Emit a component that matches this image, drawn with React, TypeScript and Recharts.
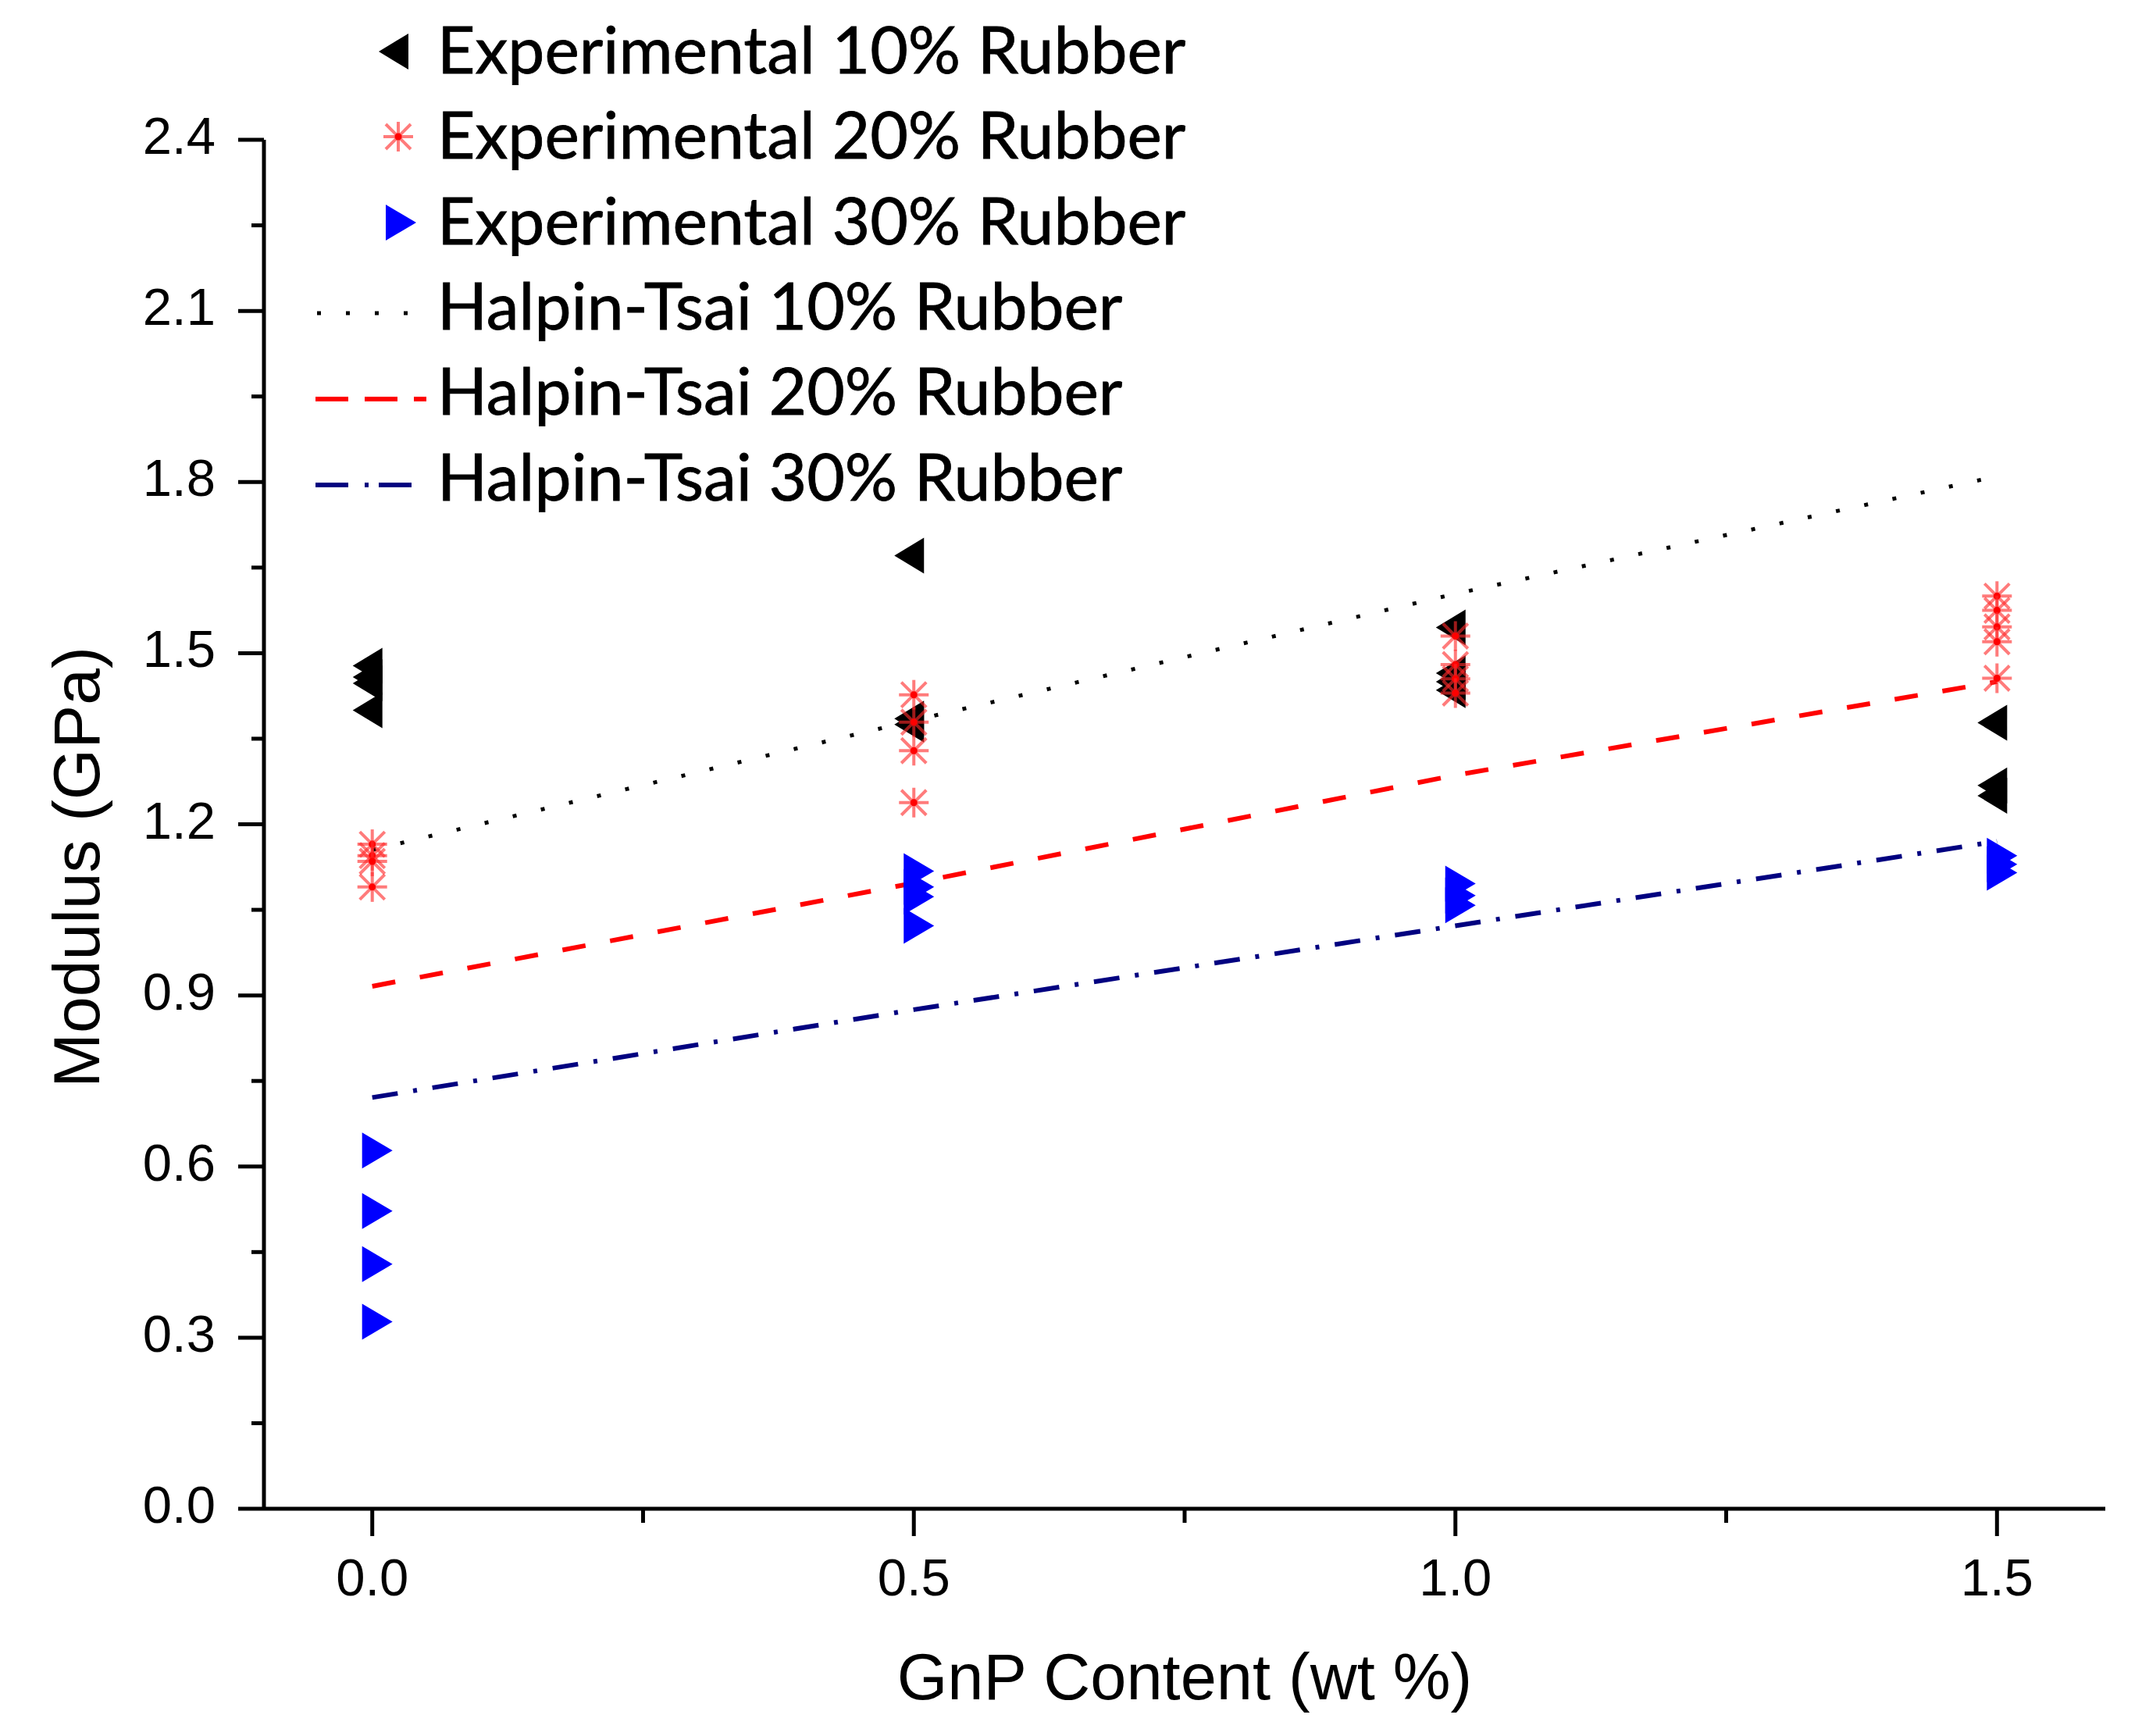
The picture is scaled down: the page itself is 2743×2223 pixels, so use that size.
import React from 'react';
import { ComposedChart, Scatter, Line, XAxis, YAxis, Legend, Label } from 'recharts';

const W = 2743;
const H = 2223;

// ---------- data ----------
const exp10X = [0, 0, 0, 0, 0.5, 0.5, 0.5, 1, 1, 1, 1, 1.5, 1.5, 1.5];
const exp10Y = [1.478, 1.458, 1.447, 1.4, 1.671, 1.385, 1.375, 1.545, 1.465, 1.45, 1.435, 1.378, 1.268, 1.25];

const exp20X = [0, 0, 0, 0, 0.5, 0.5, 0.5, 0.5, 1, 1, 1, 1, 1.5, 1.5, 1.5, 1.5, 1.5];
const exp20Y = [1.165, 1.145, 1.135, 1.09, 1.427, 1.379, 1.329, 1.238, 1.53, 1.48, 1.455, 1.43, 1.6, 1.575, 1.546, 1.52, 1.456];

const exp30X = [0, 0, 0, 0, 0.5, 0.5, 0.5, 0.5, 1, 1, 1, 1.5, 1.5, 1.5];
const exp30Y = [0.628, 0.522, 0.429, 0.328, 1.118, 1.09, 1.073, 1.022, 1.096, 1.075, 1.058, 1.145, 1.13, 1.115];

const htX = [0, 0.5, 1.0, 1.5];
const ht10Y = [1.155, 1.382, 1.604, 1.81];
const ht20Y = [0.916, 1.097, 1.286, 1.45];
const ht30Y = [0.721, 0.875, 1.022, 1.17];

const xTicks = [0, 0.25, 0.5, 0.75, 1.0, 1.25, 1.5];
const xMajor = [0, 0.5, 1.0, 1.5];
const yTicks = [0, 0.15, 0.3, 0.45, 0.6, 0.75, 0.9, 1.05, 1.2, 1.35, 1.5, 1.65, 1.8, 1.95, 2.1, 2.25, 2.4];
const yMajor = [0, 0.3, 0.6, 0.9, 1.2, 1.5, 1.8, 2.1, 2.4];

const legendNames = [
  'Experimental 10% Rubber',
  'Experimental 20% Rubber',
  'Experimental 30% Rubber',
  'Halpin-Tsai 10% Rubber',
  'Halpin-Tsai 20% Rubber',
  'Halpin-Tsai 30% Rubber',
];

const zip = (xs: number[], ys: number[]) => xs.map((x, i) => ({ x, y: ys[i] }));
const exp10 = zip(exp10X, exp10Y);
const exp20 = zip(exp20X, exp20Y);
const exp30 = zip(exp30X, exp30Y);
const ht10 = zip(htX, ht10Y);
const ht20 = zip(htX, ht20Y);
const ht30 = zip(htX, ht30Y);

// ---------- styles ----------
const AXIS_FONT = '"Liberation Sans", Arial, sans-serif';
const LEGEND_FONT = 'Lato, "Open Sans", sans-serif';
const RED = '#ff0000';
const AST_RED = '#ff2a2a';
const BLUE = '#0000ff';
const NAVY = '#000080';

const LeftTri = ({ cx, cy }: any) => (
  <path d={`M${cx - 25},${cy} L${cx + 13},${cy - 23} L${cx + 13},${cy + 23} Z`} fill="#000" />
);
const RightTri = ({ cx, cy }: any) => (
  <path d={`M${cx + 26},${cy} L${cx - 13},${cy - 23} L${cx - 13},${cy + 23} Z`} fill={BLUE} />
);
const Aster = ({ cx, cy }: any) => {
  const r = 19;
  return (
    <g>
      <g stroke={AST_RED} strokeWidth={4} strokeOpacity={0.62}>
        <line x1={cx} y1={cy - r} x2={cx} y2={cy + r} />
        <line x1={cx - r} y1={cy} x2={cx + r} y2={cy} />
        <line x1={cx - r + 3} y1={cy - r + 3} x2={cx + r - 3} y2={cy + r - 3} />
        <line x1={cx - r + 3} y1={cy + r - 3} x2={cx + r - 3} y2={cy - r + 3} />
      </g>
      <circle cx={cx} cy={cy} r={4.5} fill={RED} />
    </g>
  );
};

const YTick = (props: any) => {
  const { x, y, payload } = props;
  const v = payload.value;
  const major = yMajor.includes(v);
  return (
    <g>
      <line x1={x} x2={x - (major ? 33 : 16)} y1={y} y2={y} stroke="#000" strokeWidth={5} />
      {major && (
        <text x={x - 62} y={y + 18} textAnchor="end" fontFamily={AXIS_FONT} fontSize={67} fill="#000">
          {v.toFixed(1)}
        </text>
      )}
    </g>
  );
};

const XTick = (props: any) => {
  const { x, y, payload } = props;
  const v = payload.value;
  const major = xMajor.includes(v);
  return (
    <g>
      <line x1={x} x2={x} y1={y} y2={y + (major ? 35 : 18)} stroke="#000" strokeWidth={5} />
      {major && (
        <text x={x} y={y + 111} textAnchor="middle" fontFamily={AXIS_FONT} fontSize={67} fill="#000">
          {v.toFixed(1)}
        </text>
      )}
    </g>
  );
};

const LegendBox = () => {
  const rowCenters = [66, 175, 285, 394, 503, 613];
  const textX = 560;
  return (
    <svg width={1600} height={700} style={{ display: 'block' }}>
      <LeftTri cx={510} cy={rowCenters[0]} />
      <Aster cx={510} cy={rowCenters[1]} />
      <RightTri cx={507} cy={rowCenters[2]} />
      <line x1={406} x2={546} y1={rowCenters[3] + 7} y2={rowCenters[3] + 7} stroke="#000" strokeWidth={5} strokeDasharray="5 32" />
      <line x1={404} x2={546} y1={rowCenters[4] + 8} y2={rowCenters[4] + 8} stroke={RED} strokeWidth={6} strokeDasharray="42 21" />
      <line x1={404} x2={546} y1={rowCenters[5] + 8} y2={rowCenters[5] + 8} stroke={NAVY} strokeWidth={6} strokeDasharray="42 21 5 13" />
      {legendNames.map((n, i) => (
        <text key={n} x={textX} y={rowCenters[i] + 28} fontFamily={LEGEND_FONT} fontSize={84} fill="#000" stroke="#000" strokeWidth={0.8}>
          {n}
        </text>
      ))}
    </svg>
  );
};

export default function App() {
  return (
    <div style={{ position: 'absolute', left: 0, top: 0, width: W, height: H, background: '#fff' }}>
      <ComposedChart width={W} height={H} margin={{ top: 179, right: 47, left: 0, bottom: 0 }}>
        <XAxis
          type="number"
          dataKey="x"
          domain={[-0.1, 1.6]}
          ticks={xTicks}
          interval={0}
          allowDataOverflow
          height={291}
          tickSize={0}
          tickMargin={0}
          tickLine={false}
          tick={<XTick />}
          axisLine={{ stroke: '#000', strokeWidth: 5 }}
        >
          <Label
            content={({ viewBox }: any) => (
              <text
                x={viewBox.x + viewBox.width / 2}
                y={viewBox.y + 244}
                textAnchor="middle"
                fontFamily={AXIS_FONT}
                fontSize={83}
                fill="#000"
              >
                GnP Content (wt %)
              </text>
            )}
          />
        </XAxis>
        <YAxis
          type="number"
          dataKey="y"
          domain={[0, 2.4]}
          ticks={yTicks}
          interval={0}
          allowDataOverflow
          width={338}
          tickSize={0}
          tickMargin={0}
          tickLine={false}
          tick={<YTick />}
          axisLine={{ stroke: '#000', strokeWidth: 5 }}
        >
          <Label
            content={({ viewBox }: any) => {
              const cx = viewBox.x + 127;
              const cy = viewBox.y + viewBox.height / 2 + 55;
              return (
                <text
                  x={cx}
                  y={cy}
                  textAnchor="middle"
                  transform={`rotate(-90 ${cx} ${cy})`}
                  fontFamily={AXIS_FONT}
                  fontSize={84}
                  fill="#000"
                >
                  Modulus (GPa)
                </text>
              );
            }}
          />
        </YAxis>
        <Legend
          layout="vertical"
          align="center"
          verticalAlign="middle"
          wrapperStyle={{ left: 0, top: 0, width: 1600, height: 700 }}
          content={() => <LegendBox />}
        />
        <Scatter name={legendNames[0]} data={exp10} fill="#000" shape={(p: any) => <LeftTri cx={p.cx} cy={p.cy} />} isAnimationActive={false} />
        <Scatter name={legendNames[1]} data={exp20} fill={RED} shape={(p: any) => <Aster cx={p.cx} cy={p.cy} />} isAnimationActive={false} />
        <Scatter name={legendNames[2]} data={exp30} fill={BLUE} shape={(p: any) => <RightTri cx={p.cx} cy={p.cy} />} isAnimationActive={false} />
        <Line name={legendNames[3]} data={ht10} dataKey="y" type="linear" stroke="#000" strokeWidth={5} strokeDasharray="5 32" dot={false} activeDot={false} isAnimationActive={false} />
        <Line name={legendNames[4]} data={ht20} dataKey="y" type="linear" stroke={RED} strokeWidth={6} strokeDasharray="30 32" dot={false} activeDot={false} isAnimationActive={false} />
        <Line name={legendNames[5]} data={ht30} dataKey="y" type="linear" stroke={NAVY} strokeWidth={6} strokeDasharray="33 20 5 20" dot={false} activeDot={false} isAnimationActive={false} />
      </ComposedChart>
    </div>
  );
}
